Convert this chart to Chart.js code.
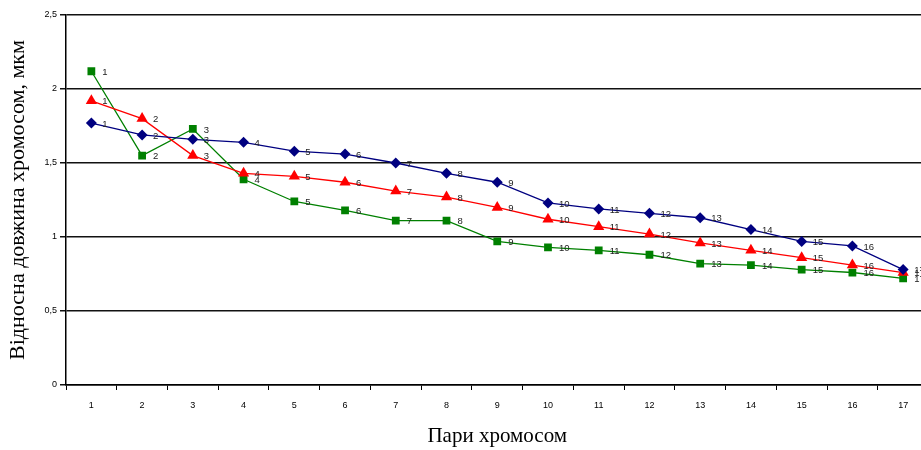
<!DOCTYPE html>
<html>
<head>
<meta charset="utf-8">
<script src="https://cdn.jsdelivr.net/npm/chart.js@4/dist/chart.umd.min.js"></script>
<style>
  html, body { margin: 0; padding: 0; background: #fff; overflow: hidden; }
  #wrap { width: 935px; height: 450px; }
</style>
</head>
<body>
<div id="wrap"><canvas id="chart"></canvas></div>
<script>
const pairs = ["1","2","3","4","5","6","7","8","9","10","11","12","13","14","15","16","17"];
const blueValues  = [1.77,1.69,1.66,1.64,1.58,1.56,1.50,1.43,1.37,1.23,1.19,1.16,1.13,1.05,0.97,0.94,0.78];
const redValues   = [1.92,1.80,1.55,1.43,1.41,1.37,1.31,1.27,1.20,1.12,1.07,1.02,0.96,0.91,0.86,0.81,0.76];
const greenValues = [2.12,1.55,1.73,1.39,1.24,1.18,1.11,1.11,0.97,0.93,0.91,0.88,0.82,0.81,0.78,0.76,0.72];

const pointLabels = {
    id: "pointLabels",
    afterDatasetsDraw(chart) {
        const ctx = chart.ctx;
        ctx.save();
        ctx.font = "9.5px 'Liberation Sans', Arial, sans-serif";
        ctx.fillStyle = "#222";
        ctx.textBaseline = "middle";
        chart.data.datasets.forEach((ds, i) => {
            chart.getDatasetMeta(i).data.forEach((pt, j) => {
                ctx.fillText(pairs[j], pt.x + 11, pt.y + 1);
            });
        });
        ctx.restore();
    }
};

const makeSet = (data, color, style, radius) => ({
    data: data,
    borderColor: color,
    backgroundColor: color,
    borderWidth: 1.3,
    pointStyle: style,
    pointRadius: radius,
    pointHoverRadius: radius,
    pointBorderWidth: 0,
    tension: 0
});

new Chart(document.getElementById("chart"), {
    type: "line",
    data: {
        labels: pairs,
        datasets: [
            makeSet(blueValues, "#000080", "rectRot", 5.5),
            makeSet(redValues, "#ff0000", "triangle", 6.5),
            makeSet(greenValues, "#008000", "rect", 5.5)
        ]
    },
    options: {
        responsive: true,
        maintainAspectRatio: false,
        animation: false,
        layout: { padding: { top: 15, right: 6, left: 0, bottom: 0 } },
        plugins: { legend: { display: false }, tooltip: { enabled: false } },
        scales: {
            x: {
                type: "category",
                offset: true,
                grid: { drawOnChartArea: false, drawTicks: true, tickLength: 5, color: "#000", offset: true },
                border: { display: true, color: "#000", width: 1.5 },
                ticks: { color: "#000", font: { size: 9, family: "'Liberation Sans', Arial" }, padding: 10, maxRotation: 0 },
                title: {
                    display: true,
                    text: "Пари хромосом",
                    color: "#000",
                    font: { size: 21, family: "'Liberation Serif', 'Times New Roman', serif" },
                    padding: { top: 0, bottom: 1 }
                },
                afterFit(scale) { scale.height = 65; }
            },
            y: {
                min: 0,
                max: 2.5,
                ticks: {
                    stepSize: 0.5,
                    color: "#000",
                    padding: 3,
                    font: { size: 9, family: "'Liberation Sans', Arial" },
                    callback: v => String(v).replace(".", ",")
                },
                grid: { color: "#111", lineWidth: 1.5, tickLength: 6 },
                border: { display: true, color: "#000", width: 1.5 },
                title: {
                    display: true,
                    text: "Відносна довжина хромосом, мкм",
                    color: "#000",
                    font: { size: 22, family: "'Liberation Serif', 'Times New Roman', serif" },
                    padding: { top: 5, bottom: 0 }
                },
                afterFit(scale) { scale.width = 66; }
            }
        }
    },
    plugins: [pointLabels]
});
</script>
</body>
</html>
